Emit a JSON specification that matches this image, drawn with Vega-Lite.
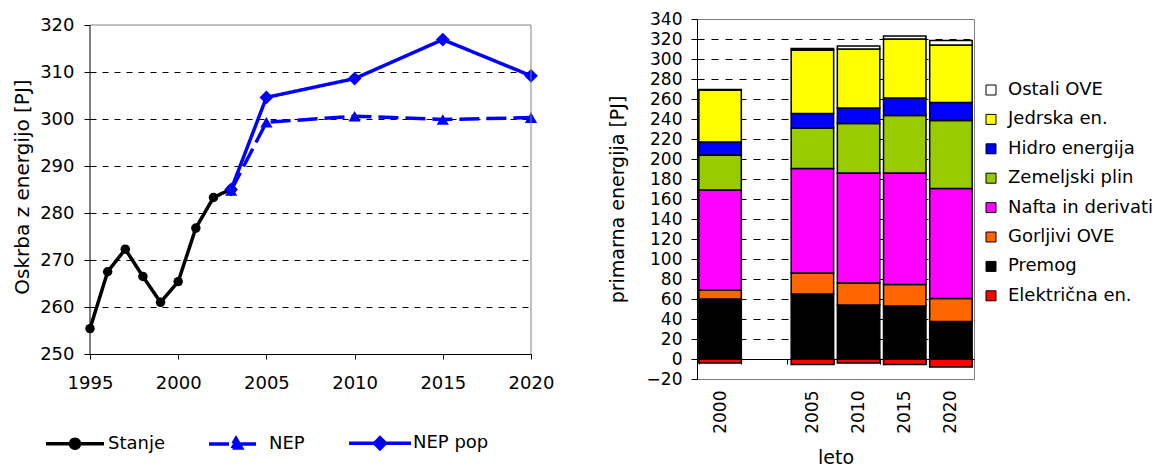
{
  "$schema": "https://vega.github.io/schema/vega-lite/v6.json",
  "padding": {"top": 9, "left": 12, "right": 0, "bottom": 0},
  "background": "#ffffff",
  "spacing": 53,
  "resolve": {"scale": {"color": "independent", "strokeDash": "independent", "x": "independent", "y": "independent"}, "legend": {"color": "independent"}},
  "config": {
    "font": "DejaVu Sans",
    "view": {"stroke": null},
    "axis": {"labelColor": "#000000", "titleColor": "#000000", "domainColor": "#000000", "tickColor": "#000000", "titleFontWeight": "normal", "domainWidth": 1, "tickWidth": 1},
    "legend": {"labelColor": "#000000"}
  },
  "hconcat": [
    {
      "width": 441,
      "height": 335,
      "data": {"values": [
        {"leto": 1995, "vrednost": 255.4, "serija": "Stanje"},
        {"leto": 1996, "vrednost": 267.5, "serija": "Stanje"},
        {"leto": 1997, "vrednost": 272.3, "serija": "Stanje"},
        {"leto": 1998, "vrednost": 266.5, "serija": "Stanje"},
        {"leto": 1999, "vrednost": 261.0, "serija": "Stanje"},
        {"leto": 2000, "vrednost": 265.4, "serija": "Stanje"},
        {"leto": 2001, "vrednost": 276.8, "serija": "Stanje"},
        {"leto": 2002, "vrednost": 283.3, "serija": "Stanje"},
        {"leto": 2003, "vrednost": 285.1, "serija": "Stanje"},
        {"leto": 2003, "vrednost": 284.8, "serija": "NEP"},
        {"leto": 2005, "vrednost": 299.3, "serija": "NEP"},
        {"leto": 2010, "vrednost": 300.6, "serija": "NEP"},
        {"leto": 2015, "vrednost": 299.9, "serija": "NEP"},
        {"leto": 2020, "vrednost": 300.3, "serija": "NEP"},
        {"leto": 2003, "vrednost": 285.0, "serija": "NEP pop"},
        {"leto": 2005, "vrednost": 304.6, "serija": "NEP pop"},
        {"leto": 2010, "vrednost": 308.6, "serija": "NEP pop"},
        {"leto": 2015, "vrednost": 316.9, "serija": "NEP pop"},
        {"leto": 2020, "vrednost": 309.2, "serija": "NEP pop"}
      ]},
      "layer": [
        {
          "mark": {"type": "line", "strokeWidth": 3.5},
          "encoding": {
            "x": {"field": "leto", "type": "quantitative",
              "scale": {"domain": [1995, 2020], "nice": false, "zero": false},
              "axis": {"title": null, "values": [1995, 2000, 2005, 2010, 2015, 2020], "format": "d", "labelFontSize": 18, "labelPadding": 15, "tickSize": 5, "grid": false, "labelFlush": false}},
            "y": {"field": "vrednost", "type": "quantitative",
              "scale": {"domain": [250, 321.28], "nice": false, "zero": false},
              "axis": {"title": "Oskrba z energijo [PJ]", "titleFontSize": 20, "titlePadding": 7, "values": [250, 260, 270, 280, 290, 300, 310, 320], "labelFontSize": 18, "labelPadding": 10, "tickSize": 6, "domain": false,
                "grid": true, "gridColor": "#000000", "gridDash": [6, 6], "gridWidth": 1,
                "gridOpacity": {"condition": {"test": "datum.value <= 250 || datum.value >= 320", "value": 0}, "value": 1}}},
            "color": {"field": "serija", "type": "nominal",
              "scale": {"domain": ["Stanje", "NEP", "NEP pop"], "range": ["#000000", "#0000ff", "#0000ff"]},
              "legend": {"orient": "none", "legendX": -24, "legendY": 415, "direction": "horizontal", "title": null, "padding": 0,
                "symbolSize": 100, "labelFontSize": 18, "labelOffset": 24, "columnPadding": 37,
                "encode": {"symbols": {"update": {
                  "shape": {"signal": "datum.value === 'Stanje' ? 'M-5.8,0H5.8M-0.9,0A0.9,0.9,0,1,1,0.9,0A0.9,0.9,0,1,1,-0.9,0Z' : (datum.value === 'NEP' ? 'M-5.4,0H5.4M0,-1.1L1.1,0.8L-1.1,0.8Z' : 'M-6.2,0H6.2M0,-1.1L1.1,0L0,1.1L-1.1,0Z')"},
                  "fill": {"signal": "datum.value === 'Stanje' ? '#000000' : '#0000ff'"},
                  "stroke": {"signal": "datum.value === 'Stanje' ? '#000000' : '#0000ff'"},
                  "strokeWidth": {"value": 3.5},
                  "strokeDash": {"value": [1, 0]},
                  "opacity": {"value": 1},
                  "size": {"value": 100}
                }}}}},
            "strokeDash": {"field": "serija", "type": "nominal",
              "scale": {"domain": ["Stanje", "NEP", "NEP pop"], "range": [[1, 0], [20, 7], [1, 0]]},
              "legend": null}
          }
        },
        {
          "transform": [{"filter": "datum.serija === 'Stanje'"}],
          "mark": {"type": "point", "filled": true, "opacity": 1, "shape": "circle", "size": 90, "color": "#000000"},
          "encoding": {
            "x": {"field": "leto", "type": "quantitative"},
            "y": {"field": "vrednost", "type": "quantitative"}
          }
        },
        {
          "transform": [{"filter": "datum.serija === 'NEP'"}],
          "mark": {"type": "point", "filled": true, "opacity": 1, "shape": "triangle-up", "size": 150, "color": "#0000ff"},
          "encoding": {
            "x": {"field": "leto", "type": "quantitative"},
            "y": {"field": "vrednost", "type": "quantitative"}
          }
        },
        {
          "transform": [{"filter": "datum.serija === 'NEP pop'"}],
          "mark": {"type": "point", "filled": true, "opacity": 1, "shape": "diamond", "size": 190, "color": "#0000ff"},
          "encoding": {
            "x": {"field": "leto", "type": "quantitative"},
            "y": {"field": "vrednost", "type": "quantitative"}
          }
        },
        {
          "data": {"values": [{}]},
          "mark": {"type": "rule", "color": "#000000", "strokeWidth": 1},
          "encoding": {"x": {"datum": 1995, "type": "quantitative"}, "y": {"datum": 250, "type": "quantitative"}, "y2": {"datum": 320}}
        },
        {
          "data": {"values": [{}]},
          "mark": {"type": "rule", "color": "#808080", "strokeWidth": 1},
          "encoding": {"x": {"datum": 2020, "type": "quantitative"}, "y": {"datum": 250, "type": "quantitative"}, "y2": {"datum": 320}}
        },
        {
          "data": {"values": [{}]},
          "mark": {"type": "rule", "color": "#808080", "strokeWidth": 1},
          "encoding": {"x": {"datum": 1995, "type": "quantitative"}, "x2": {"datum": 2020}, "y": {"datum": 320, "type": "quantitative"}}
        }
      ]
    },
    {
      "width": 277,
      "height": 360,
      "view": {"stroke": "#808080", "strokeWidth": 1},
      "data": {"values": [
        {"leto": "2000", "vir": "Električna en.", "pj": -4},
        {"leto": "2000", "vir": "Premog", "pj": 60},
        {"leto": "2000", "vir": "Gorljivi OVE", "pj": 9},
        {"leto": "2000", "vir": "Nafta in derivati", "pj": 100},
        {"leto": "2000", "vir": "Zemeljski plin", "pj": 35},
        {"leto": "2000", "vir": "Hidro energija", "pj": 13},
        {"leto": "2000", "vir": "Jedrska en.", "pj": 52},
        {"leto": "2000", "vir": "Ostali OVE", "pj": 0.5},
        {"leto": "2005", "vir": "Električna en.", "pj": -5.5},
        {"leto": "2005", "vir": "Premog", "pj": 65},
        {"leto": "2005", "vir": "Gorljivi OVE", "pj": 21},
        {"leto": "2005", "vir": "Nafta in derivati", "pj": 104.5},
        {"leto": "2005", "vir": "Zemeljski plin", "pj": 40.5},
        {"leto": "2005", "vir": "Hidro energija", "pj": 14.5},
        {"leto": "2005", "vir": "Jedrska en.", "pj": 63.5},
        {"leto": "2005", "vir": "Ostali OVE", "pj": 1.5},
        {"leto": "2010", "vir": "Električna en.", "pj": -4},
        {"leto": "2010", "vir": "Premog", "pj": 54},
        {"leto": "2010", "vir": "Gorljivi OVE", "pj": 22},
        {"leto": "2010", "vir": "Nafta in derivati", "pj": 110},
        {"leto": "2010", "vir": "Zemeljski plin", "pj": 49.5},
        {"leto": "2010", "vir": "Hidro energija", "pj": 15.5},
        {"leto": "2010", "vir": "Jedrska en.", "pj": 59},
        {"leto": "2010", "vir": "Ostali OVE", "pj": 3},
        {"leto": "2015", "vir": "Električna en.", "pj": -5.5},
        {"leto": "2015", "vir": "Premog", "pj": 53},
        {"leto": "2015", "vir": "Gorljivi OVE", "pj": 21.5},
        {"leto": "2015", "vir": "Nafta in derivati", "pj": 111.5},
        {"leto": "2015", "vir": "Zemeljski plin", "pj": 57.5},
        {"leto": "2015", "vir": "Hidro energija", "pj": 17.5},
        {"leto": "2015", "vir": "Jedrska en.", "pj": 59},
        {"leto": "2015", "vir": "Ostali OVE", "pj": 3},
        {"leto": "2020", "vir": "Električna en.", "pj": -8},
        {"leto": "2020", "vir": "Premog", "pj": 37.5},
        {"leto": "2020", "vir": "Gorljivi OVE", "pj": 23},
        {"leto": "2020", "vir": "Nafta in derivati", "pj": 110},
        {"leto": "2020", "vir": "Zemeljski plin", "pj": 68},
        {"leto": "2020", "vir": "Hidro energija", "pj": 18},
        {"leto": "2020", "vir": "Jedrska en.", "pj": 57.5},
        {"leto": "2020", "vir": "Ostali OVE", "pj": 4.5}
      ]},
      "transform": [
        {"calculate": "indexof(['Električna en.', 'Premog', 'Gorljivi OVE', 'Nafta in derivati', 'Zemeljski plin', 'Hidro energija', 'Jedrska en.', 'Ostali OVE'], datum.vir)", "as": "vrstni_red"}
      ],
      "mark": {"type": "bar", "stroke": "#000000", "strokeWidth": 1.5, "opacity": 1},
      "encoding": {
        "x": {"field": "leto", "type": "ordinal",
          "scale": {"domain": ["2000", " ", "2005", "2010", "2015", "2020"], "paddingInner": 0.08, "paddingOuter": 0.04},
          "axis": {"title": "leto", "titleFontSize": 19, "titlePadding": 15, "labelAngle": -90, "labelFontSize": 17, "offset": -20, "labelPadding": 26, "tickSize": 5, "tickBand": "extent", "grid": false}},
        "y": {"field": "pj", "type": "quantitative", "stack": "zero",
          "scale": {"domain": [-20, 340], "nice": false, "zero": false},
          "axis": {"title": "primarna energija [PJ]", "titleFontSize": 19, "titlePadding": 19,
            "values": [-20, 0, 20, 40, 60, 80, 100, 120, 140, 160, 180, 200, 220, 240, 260, 280, 300, 320, 340],
            "labelFontSize": 17, "labelPadding": 9, "tickSize": 6,
            "grid": true, "gridColor": "#000000", "gridDash": [7, 7], "gridWidth": 1,
            "gridOpacity": {"condition": {"test": "datum.value <= 0 || datum.value >= 340", "value": 0}, "value": 1}}},
        "order": {"field": "vrstni_red", "type": "quantitative", "sort": "ascending"},
        "color": {"field": "vir", "type": "nominal",
          "sort": ["Ostali OVE", "Jedrska en.", "Hidro energija", "Zemeljski plin", "Nafta in derivati", "Gorljivi OVE", "Premog", "Električna en."],
          "scale": {"domain": ["Ostali OVE", "Jedrska en.", "Hidro energija", "Zemeljski plin", "Nafta in derivati", "Gorljivi OVE", "Premog", "Električna en."],
            "range": ["#ffffff", "#ffff00", "#0000ff", "#99cc00", "#ff00ff", "#ff6600", "#000000", "#ff0000"]},
          "legend": {"orient": "none", "legendX": 285, "legendY": 62, "title": null, "padding": 0,
            "symbolType": "square", "symbolSize": 100, "symbolStrokeColor": "#000000", "symbolStrokeWidth": 1,
            "labelFontSize": 18, "labelOffset": 8, "rowPadding": 11.4}}
      }
    }
  ]
}
